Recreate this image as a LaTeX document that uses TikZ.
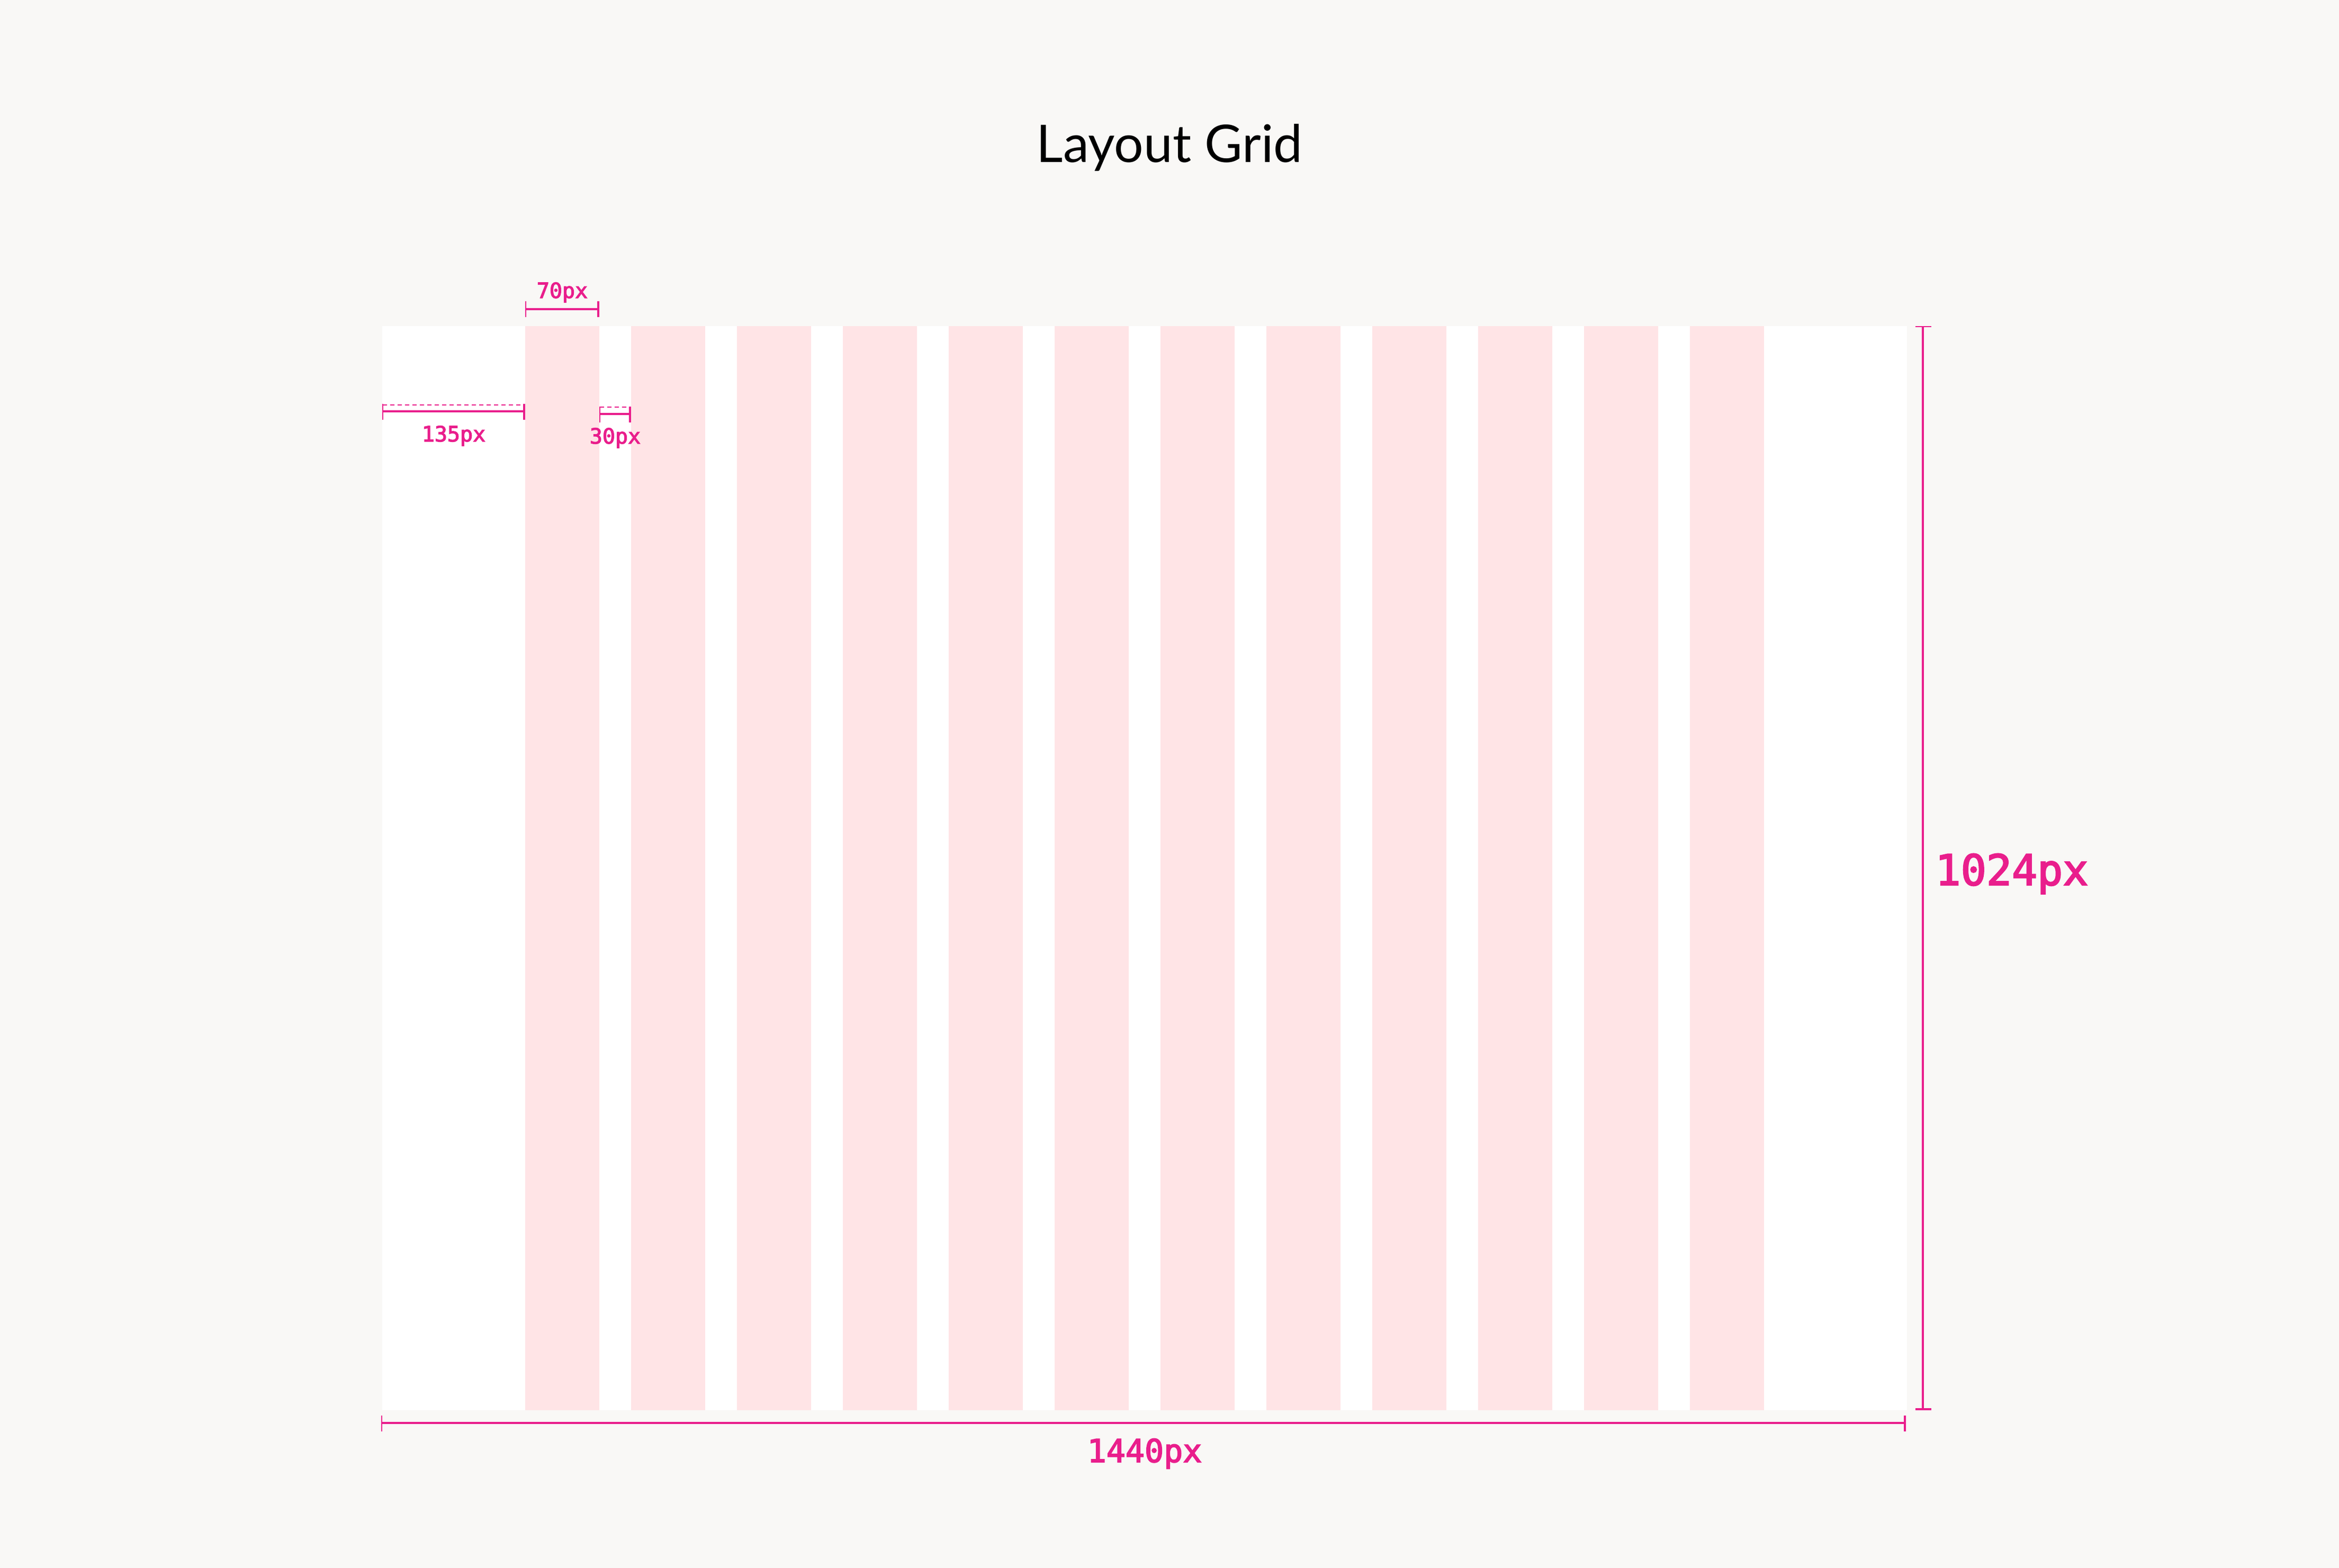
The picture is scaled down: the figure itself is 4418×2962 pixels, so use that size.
\documentclass[tikz,border=0pt]{standalone}
\usepackage{fontspec}
\setmainfont{Lato}
\newfontfamily\monofont[FakeBold=3]{DejaVu Sans Mono}
\definecolor{bg}{HTML}{F9F8F6}
\definecolor{mag}{HTML}{E91E8C}
\definecolor{colpink}{HTML}{FFE4E6}
\begin{document}
\begin{tikzpicture}[x=1pt,y=-1pt,
  framebox/.style={fill=white, draw=none, inner sep=0pt, minimum width=2880pt, minimum height=2048pt, anchor=north west},
  colbox/.style={fill=colpink, draw=none, inner sep=0pt, minimum width=140pt, minimum height=2048pt, anchor=north west},
  dimline/.style={draw=mag, line width=4pt},
  tickthin/.style={draw=mag, line width=2pt},
  tickthick/.style={draw=mag, line width=4pt},
  dashline/.style={draw=mag, line width=2pt, dash pattern=on 8pt off 6pt},
  dimlabel/.style={text=mag, inner sep=0pt, anchor=base, font=\monofont\fontsize{40}{48}\selectfont},
]
\useasboundingbox (0,0) rectangle (4418,2962);
\fill[bg] (0,0) rectangle (4418,2962);

% title
\node[anchor=base, inner sep=0pt, font=\fontsize{98}{118}\selectfont] (title) at (2209,306) {Layout Grid};

% frame and columns
\node[framebox] (frame) at (722,616) {};
\foreach \i in {0,...,11}{
  \node[colbox] (col\i) at ({992+200*\i},616) {};
}

% 70px dimension
\coordinate (a1) at (993,584);
\coordinate (a2) at (1130,584);
\draw[dimline] (a1) -- (a2);
\draw[tickthin] (a1) ++(0,-15) -- ++(0,30);
\draw[tickthick] (a2) ++(0,-15) -- ++(0,30);
\node[dimlabel] (l70) at (1062,563) {70px};

% 135px dimension
\coordinate (b1) at (723,777);
\coordinate (b2) at (990,777);
\coordinate (b1d) at (723,764.5);
\coordinate (b2d) at (990,764.5);
\draw[dashline] (b1d) -- (b2d);
\draw[dimline] (b1) -- (b2);
\draw[tickthin] (b1) ++(0,-14) -- ++(0,30);
\draw[tickthick] (b2) ++(0,-14) -- ++(0,30);
\node[dimlabel] (l135) at (857,834) {135px};

% 30px dimension
\coordinate (c1) at (1133,782);
\coordinate (c2) at (1190,782);
\coordinate (c1d) at (1133,769);
\coordinate (c2d) at (1190,769);
\draw[dashline] (c1d) -- (c2d);
\draw[dimline] (c1) -- (c2);
\draw[tickthin] (c1) ++(0,-14) -- ++(0,30);
\draw[tickthick] (c2) ++(0,-14) -- ++(0,30);
\node[dimlabel] (l30) at (1162,838) {30px};

% 1440px dimension
\coordinate (d1) at (721,2688);
\coordinate (d2) at (3598,2688);
\draw[dimline] (d1) -- (d2);
\draw[tickthin] (d1) ++(0,-14) -- ++(0,30);
\draw[tickthick] (d2) ++(0,-14) -- ++(0,30);
\node[dimlabel, font=\monofont\fontsize{60}{72}\selectfont] (l1440) at (2162,2762) {1440px};

% 1024px dimension
\coordinate (e1) at (3632,617);
\coordinate (e2) at (3632,2662);
\draw[dimline] (e1) -- (e2);
\draw[tickthin] (e1) ++(-14,0) -- ++(30,0);
\draw[tickthick] (e2) ++(-14,0) -- ++(30,0);
\node[dimlabel, font=\monofont\fontsize{80}{96}\selectfont] (l1024) at (3800,1672) {1024px};
\end{tikzpicture}
\end{document}
